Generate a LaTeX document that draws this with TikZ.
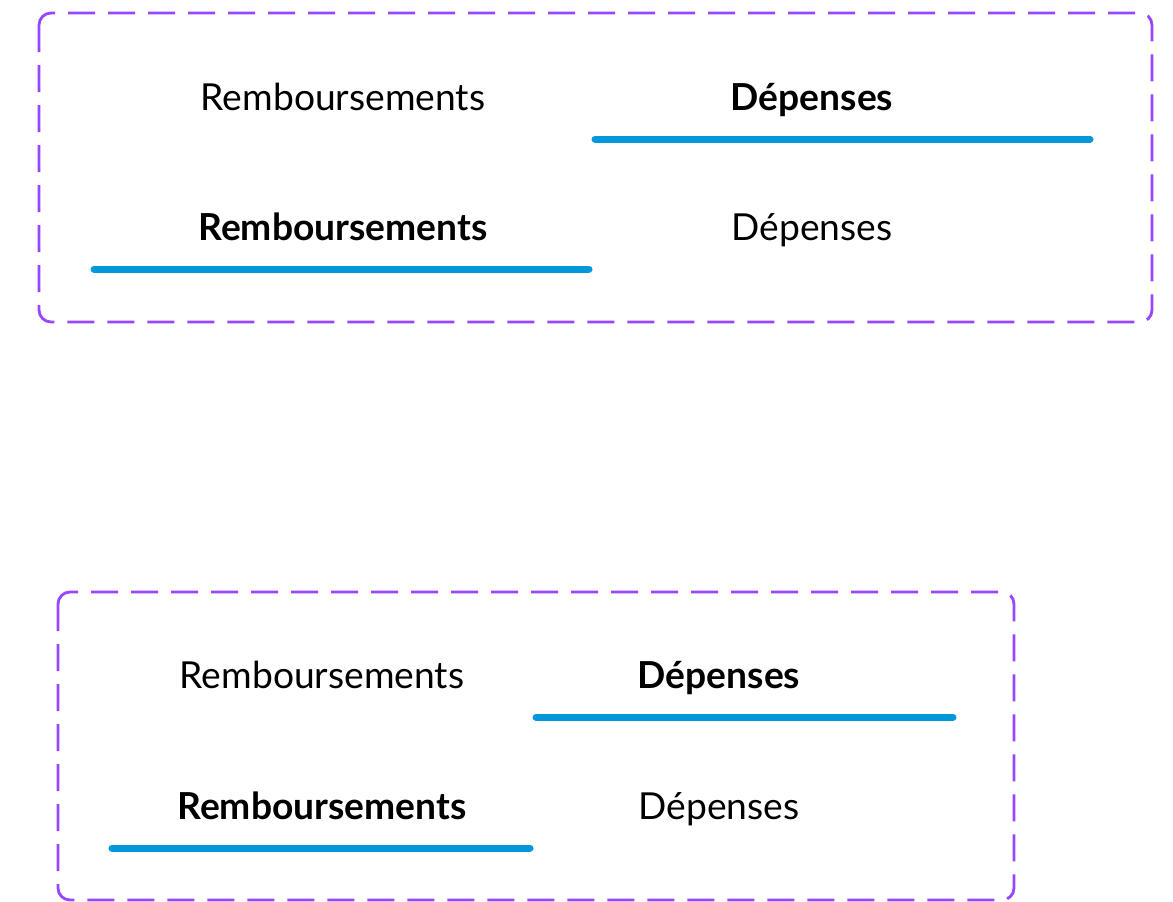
\documentclass[tikz,border=0pt]{standalone}
\usepackage{fontspec}
\setmainfont{Lato}
\definecolor{frame}{HTML}{9747FF}
\definecolor{tabline}{HTML}{0098DA}
\tikzset{
  framebox/.style={draw=frame, line width=2.8pt, dash pattern=on 27pt off 13pt, rounded corners=12pt},
  lbl/.style={anchor=base, inner sep=0pt, font=\fontsize{37.2}{40}\selectfont},
  bl/.style={lbl, font=\fontsize{37.2}{40}\selectfont\bfseries},
  uline/.style={draw=tabline, line width=7pt, line cap=round},
}
\begin{document}
\begin{tikzpicture}[x=1pt,y=-1pt]
\useasboundingbox (0,0) rectangle (1173,902);
% box 1
\draw[framebox] (39,13) rectangle (1152,322);
\node[lbl] (r1) at (343,110) {Remboursements};
\node[bl] (d1) at (812,110) {Dépenses};
\coordinate (l1a) at (595,139);
\coordinate (l1b) at (1090,139);
\draw[uline] (l1a) -- (l1b);
\node[bl] (r2) at (343,240) {Remboursements};
\node[lbl] (d2) at (812,240) {Dépenses};
\coordinate (l2a) at (94,269);
\coordinate (l2b) at (589,269);
\draw[uline] (l2a) -- (l2b);
% box 2
\draw[framebox] (58,592) rectangle (1014,900);
\node[lbl] (r3) at (322,688) {Remboursements};
\node[bl] (d3) at (719,688) {Dépenses};
\coordinate (l3a) at (536,717);
\coordinate (l3b) at (953,717);
\draw[uline] (l3a) -- (l3b);
\node[bl] (r4) at (322,819) {Remboursements};
\node[lbl] (d4) at (719,819) {Dépenses};
\coordinate (l4a) at (112,848);
\coordinate (l4b) at (530,848);
\draw[uline] (l4a) -- (l4b);
\end{tikzpicture}
\end{document}
